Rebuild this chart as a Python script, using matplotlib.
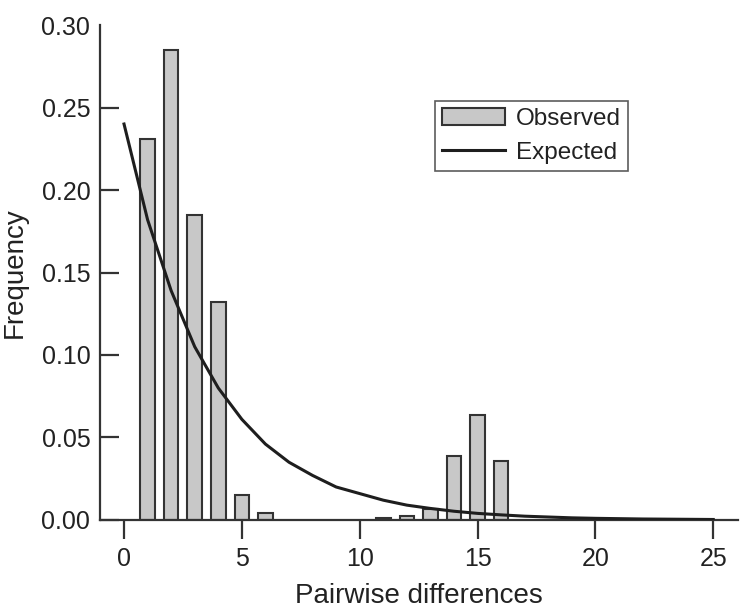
import numpy as np
import matplotlib
matplotlib.use('Agg')
import matplotlib.pyplot as plt

plt.rcParams['font.family'] = ['Liberation Sans', 'DejaVu Sans']

# observed mismatch distribution
diffs = [1, 2, 3, 4, 5, 6, 11, 12, 13, 14, 15, 16]
observed = [0.231, 0.285, 0.185, 0.132, 0.015, 0.0045,
            0.0012, 0.0022, 0.0069, 0.039, 0.0636, 0.0356]

# expected curve read at integer differences 0..25
exp_x = list(range(26))
expected = [0.240, 0.182, 0.139, 0.105, 0.080, 0.061, 0.046, 0.035, 0.027,
            0.020, 0.016, 0.012, 0.009, 0.007, 0.0053, 0.0040, 0.0031,
            0.0023, 0.0018, 0.0013, 0.0010, 0.0008, 0.0006, 0.0005,
            0.0004, 0.0003]

fig = plt.figure(figsize=(7.5, 6.15), dpi=100)
ax = fig.add_axes([0.1333, 0.1545, 0.8507, 0.8048])

bars = ax.bar(diffs, observed, width=0.62, color='#c8c8c8', edgecolor='#333333',
              linewidth=1.5, label='Observed', zorder=2)
line, = ax.plot(exp_x, expected, color='#1e1e1e', linewidth=2.2,
                label='Expected', zorder=3)

ax.set_xlim(-1.02, 26.05)
ax.set_ylim(0, 0.30)
ax.set_xticks([0, 5, 10, 15, 20, 25])
ax.set_yticks([0, 0.05, 0.10, 0.15, 0.20, 0.25, 0.30])
ax.set_yticklabels(['0.00', '0.05', '0.10', '0.15', '0.20', '0.25', '0.30'])

for s in ['top', 'right']:
    ax.spines[s].set_visible(False)
for s in ['left', 'bottom']:
    ax.spines[s].set_linewidth(1.6)
    ax.spines[s].set_color('#333333')

ax.tick_params(axis='x', direction='out', length=14, width=1.6, color='#333333',
               labelsize=18, pad=5.5, labelcolor='#222222')
ax.tick_params(axis='y', direction='in', length=14, width=1.6, color='#333333',
               labelsize=18, pad=7, labelcolor='#222222')
# no tick mark at the top of the axis
ax.yaxis.get_major_ticks()[-1].tick1line.set_visible(False)

ax.set_xlabel('Pairwise differences', fontsize=20, color='#222222')
ax.set_ylabel('Frequency', fontsize=20, color='#222222')
ax.xaxis.set_label_coords(0.5, -0.127)
ax.yaxis.set_label_coords(-0.113, 0.5)

leg = ax.legend([bars, line], ['Observed', 'Expected'], loc='upper left',
                bbox_to_anchor=(0.58, 0.836), bbox_transform=fig.transFigure,
                borderaxespad=0, fontsize=17.5, frameon=True, fancybox=False,
                handlelength=2.6, handleheight=0.7, borderpad=0.28,
                labelspacing=0.5, handletextpad=0.45)
leg.get_frame().set_edgecolor('#333333')
leg.get_frame().set_linewidth(1.2)
for t in leg.get_texts():
    t.set_color('#222222')

fig.savefig('out.png', dpi=100)
